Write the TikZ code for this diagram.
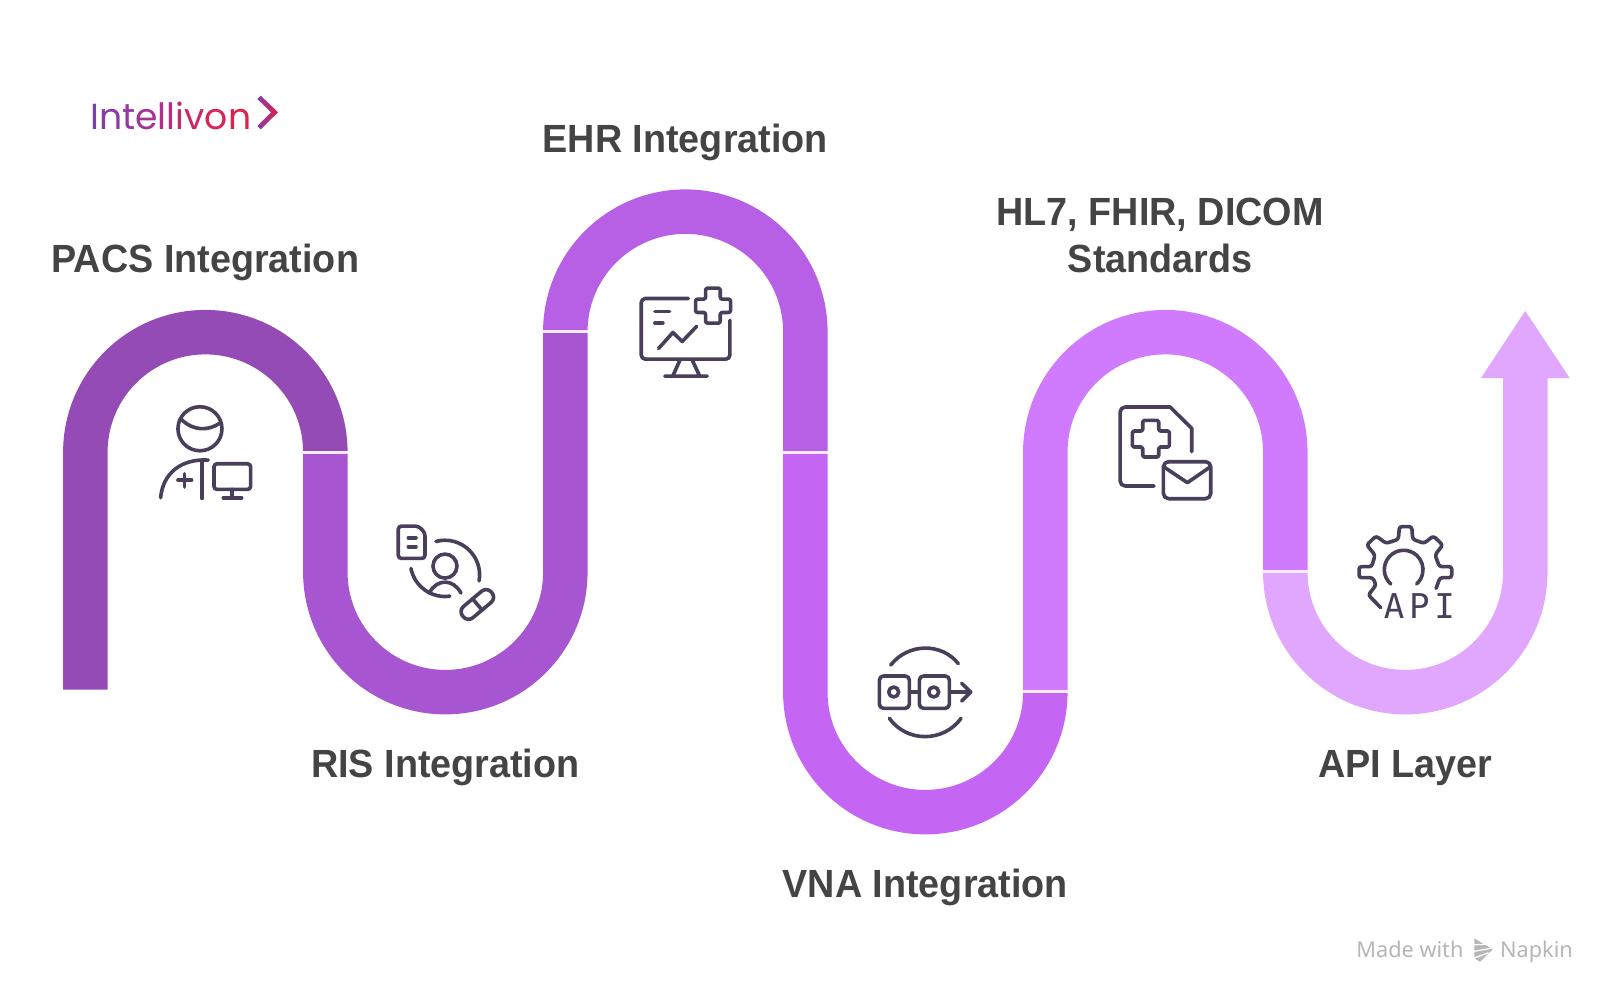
\documentclass[tikz,border=0pt]{standalone}
\usepackage{fontspec}
\setmainfont{Liberation Sans}
\newfontfamily\labfont{Liberation Sans}[FakeStretch=0.96]
\newfontfamily\logofont{Poppins}[LetterSpace=2.5]
\newfontfamily\apifont{DejaVu Sans Mono}[LetterSpace=14]
\newfontfamily\wmfont{Noto Sans}
\definecolor{segA}{HTML}{954BB5}
\definecolor{segB}{HTML}{A855D1}
\definecolor{segC}{HTML}{B75FE5}
\definecolor{segD}{HTML}{C565F3}
\definecolor{segE}{HTML}{D07BFD}
\definecolor{segF}{HTML}{E1A7FE}
\definecolor{gapc}{HTML}{F6ECFC}
\definecolor{icon}{HTML}{4A3F5A}
\definecolor{labelgray}{HTML}{444444}
\definecolor{wm}{HTML}{B6B6B6}
\definecolor{lgA}{HTML}{7B3FAE}
\definecolor{lgB}{HTML}{8A3BA8}
\definecolor{lgC}{HTML}{963AA2}
\definecolor{lgD}{HTML}{A33598}
\definecolor{lgE}{HTML}{B0308C}
\definecolor{lgF}{HTML}{B92D80}
\definecolor{lgG}{HTML}{C22A72}
\definecolor{lgH}{HTML}{CC2866}
\definecolor{lgI}{HTML}{D62558}
\definecolor{lgJ}{HTML}{DC224C}
\tikzset{
  band/.style={line width=43pt,line cap=butt,line join=round},
  gapline/.style={gapc,line width=3pt},
  lab/.style={font=\labfont\bfseries\fontsize{38}{46}\selectfont,text=labelgray,align=center,inner sep=0pt},
  ic/.style={draw=icon,line width=3.5pt,line cap=round,line join=round},
}
\begin{document}
\begin{tikzpicture}[x=1pt,y=-1pt]
\useasboundingbox (0,0) rectangle (1568,970.6);
\fill[white] (0,0) rectangle (1568,970.6);
% ribbon
\begin{scope}[yshift=-0.6pt]
\draw[band,segA] (82.5,666) -- (82.5,436.5) arc[start angle=180,end angle=0,radius=116pt];
\draw[band,segB] (314.5,436.5) -- (314.5,552.5) arc[start angle=180,end angle=360,radius=116pt] -- (546.5,320);
\draw[band,segC] (546.5,320) arc[start angle=180,end angle=0,radius=116pt] -- (778.5,436.5);
\draw[band,segD] (778.5,436.5) -- (778.5,668.5) arc[start angle=180,end angle=360,radius=116pt];
\draw[band,segE] (1010.5,668.5) -- (1010.5,436.5) arc[start angle=180,end angle=0,radius=116pt] -- (1242.5,552.5);
\draw[band,segF] (1242.5,552.5) arc[start angle=180,end angle=360,radius=116pt] -- (1474.5,364);
\fill[segF] (1431.5,365) -- (1474.5,300) -- (1517.5,365) -- cycle;
\draw[gapline] (293,436.5) -- (336,436.5);
\draw[gapline] (525,320) -- (568,320);
\draw[gapline] (757,436.5) -- (800,436.5);
\draw[gapline] (989,667.5) -- (1032,667.5);
\draw[gapline] (1221,552) -- (1264,552);
\end{scope}
% labels
\node[lab] (pacs) at (198.5,253.5) {PACS Integration};
\node[lab] (ris) at (430.5,741.5) {RIS Integration};
\node[lab] (ehr) at (662.5,137.5) {EHR Integration};
\node[lab] (hl) at (1121.5,227.5) {HL7, FHIR, DICOM\\Standards};
\node[lab] (vna) at (894.5,857.5) {VNA Integration};
\node[lab] (apil) at (1358.5,742) {API Layer};
% icon 1 + 2
\begin{scope}[shift={(135.3,368.4)},scale=0.32225]
\draw[ic] (180,143) circle[radius=66pt];
\draw[ic] (124,115) .. controls (160,150) and (205,150) .. (240,126);
\draw[ic] (62,350) .. controls (68,280) and (120,232) .. (205,237);
\draw[ic] (187,237) -- (187,352);
\draw[ic] (114,297) -- (155,297) (134,278) -- (134,318);
\draw[ic,rounded corners=3pt] (222,248) rectangle (332,325);
\draw[ic] (277,325) -- (277,350) (250,350) -- (305,350);
\draw[ic,rounded corners=3pt] (800,435) -- (835,435) -- (855,455) -- (855,532) -- (775,532) -- (775,435) -- cycle;
\draw[ic] (805,470) -- (828,470) (805,497) -- (828,497);
\draw[ic] (888,481) arc[start angle=105,end angle=-10,radius=104pt];
\draw[ic] (813,562) arc[start angle=191,end angle=278,radius=104pt];
\draw[ic] (915,555) circle[radius=36pt];
\draw[ic] (868,636) .. controls (890,592) and (940,592) .. (963,636);
\draw[ic,rotate around={40:(1012,670)},rounded corners=6.5pt] (956,648) rectangle (1068,692);
\draw[ic,rotate around={40:(1012,670)}] (1012,648) -- (1012,692);
\end{scope}
% icon 3
\begin{scope}[shift={(599.9,261.8)},scale=0.32225]
\draw[ic,rounded corners=4pt] (203,83) -- (62,83) -- (62,265) -- (328,265) -- (328,148);
\draw[ic,rounded corners=2pt] (255,52) -- (299,52) -- (299,85) -- (330,85) -- (330,125) -- (299,125) -- (299,157) -- (255,157) -- (255,125) -- (225,125) -- (225,85) -- (255,85) -- cycle;
\draw[ic] (103,122) -- (147,122) (103,157) -- (127,157);
\draw[ic] (114,233) -- (157,185) -- (185,212) -- (228,167);
\draw[ic] (178,268) -- (157,315) (215,268) -- (237,315) (133,316) -- (260,316);
\end{scope}
% icon 4
\begin{scope}[shift={(831.4,610)},scale=0.32225]
\draw[ic,rounded corners=4pt] (58,135) rectangle (148,232);
\draw[ic,rounded corners=4pt] (178,135) rectangle (268,232);
\draw[ic] (101,183) circle[radius=15pt] (221,183) circle[radius=15pt];
\draw[ic] (148,183) -- (178,183) (268,183) -- (332,183) (305,157) -- (332,183) -- (305,210);
\draw[ic] (92,102) .. controls (145,35) and (245,35) .. (295,98);
\draw[ic] (88,262) .. controls (140,335) and (250,335) .. (303,262);
\end{scope}
% icon 5
\begin{scope}[shift={(1073.1,378)},scale=0.32225]
\draw[ic,rounded corners=5pt] (132,285) -- (30,285) -- (30,48) -- (175,48);
\draw[ic] (175,48) -- (180,48) -- (245,112) -- (245,182);
\draw[ic,rounded corners=1.5pt] (98,88) -- (146,88) -- (146,120) -- (178,120) -- (178,168) -- (146,168) -- (146,198) -- (98,198) -- (98,168) -- (67,168) -- (67,120) -- (98,120) -- cycle;
\draw[ic,rounded corners=5pt] (160,212) rectangle (302,323);
\draw[ic] (162,228) -- (232,275) -- (300,228);
\end{scope}
% icon 6
\begin{scope}[shift={(1305.1,493)},scale=0.32225]
\draw[ic,rounded corners=2.5pt] (92,293) -- (55,255) -- (78,225) -- (68,203) -- (27,203) -- (27,170) -- (65,170) -- (75,135) -- (50,105) -- (78,78) -- (108,100) -- (145,88) -- (148,50) -- (185,50) -- (188,88) -- (222,100) -- (250,78) -- (278,105) -- (255,135) -- (268,170) -- (305,170) -- (305,203) -- (270,203) -- (258,235);
\draw[ic] (122,222) arc[start angle=228,end angle=-48,radius=58pt];
\node[inner sep=0pt,text=icon,font=\apifont\fontsize{33}{33}\selectfont] (apiicon) at (208,288) {API};
\end{scope}
% logo
\node[inner sep=0pt,anchor=base west,font=\logofont\fontsize{35}{35}\selectfont] (logo) at (87,125) {\textcolor{lgA}{I}\textcolor{lgB}{n}\textcolor{lgC}{t}\textcolor{lgD}{e}\textcolor{lgE}{l}\textcolor{lgF}{l}\textcolor{lgG}{i}\textcolor{lgH}{v}\textcolor{lgI}{o}\textcolor{lgJ}{n}};
\begin{scope}[shift={(67.7,77.3)},scale=0.32225]
\shade[left color=lgB,right color=lgJ] (562,57) -- (572,47) -- (624,97) -- (572,148) -- (562,138) -- (603,97) -- cycle;
\end{scope}
% watermark
\node[inner sep=0pt,anchor=base west,text=wm,font=\wmfont\fontsize{21}{21}\selectfont] (made) at (1311,925.5) {Made with};
\node[inner sep=0pt,anchor=base west,text=wm,font=\wmfont\fontsize{21}{21}\selectfont] (napkin) at (1450,925.5) {Napkin};
\begin{scope}[shift={(1295.4,889.4)},scale=0.32225]
\fill[wm] (403,55) -- (458,88) -- (420,125) -- (403,115) -- cycle;
\draw[white,line width=1.2pt] (395,75) -- (440,72) (395,95) -- (452,85) (400,115) -- (445,98);
\end{scope}
\end{tikzpicture}
\end{document}
